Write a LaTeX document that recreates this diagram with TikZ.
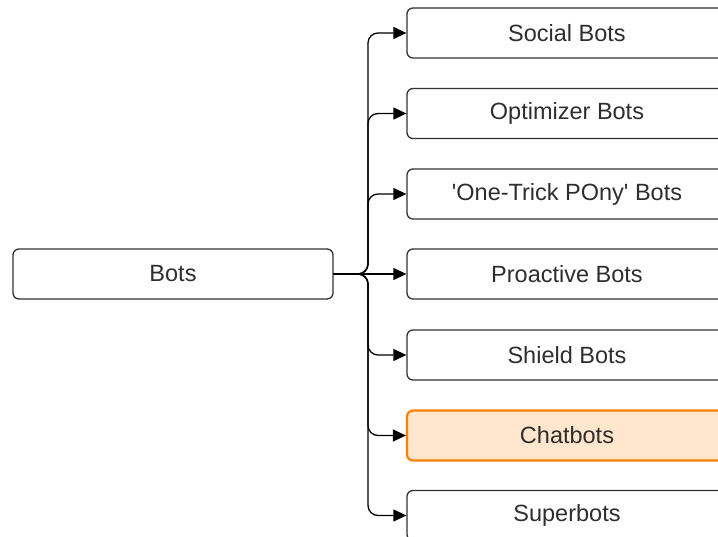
\documentclass[tikz,border=0pt]{standalone}
\usepackage{fontspec}
\setmainfont{Liberation Sans}[Ligatures=TeXOff]
\usetikzlibrary{arrows.meta}
\definecolor{txt}{HTML}{2E2E2E}
\definecolor{edge}{HTML}{333333}
\definecolor{orfill}{HTML}{FFE6CC}
\definecolor{orline}{HTML}{FF8000}
\tikzset{
  box/.style={draw=edge, line width=1.3pt, rounded corners=6pt, fill=white,
    minimum width=320pt, minimum height=50pt, inner sep=0pt,
    font=\fontsize{23.5}{27}\selectfont, text=txt},
  hot/.style={box, draw=orline, fill=orfill, line width=2.2pt},
  conn/.style={draw=black, line width=1.3pt, rounded corners=10pt,
    -{Triangle[length=13pt,width=12pt]}},
}
\begin{document}
\begin{tikzpicture}[x=1pt,y=-1pt]
\useasboundingbox (0,0) rectangle (718,537);
\clip (0,0) rectangle (718,537);
\node[box] (bots) at (173,274) {Bots};
\node[box] (social) at (567,33) {Social Bots};
\node[box] (optim) at (567,113.5) {Optimizer Bots};
\node[box] (onetrick) at (567,194) {'One-Trick POny' Bots};
\node[box] (proact) at (567,274) {Proactive Bots};
\node[box] (shield) at (567,355) {Shield Bots};
\node[hot] (chat) at (567,435.5) {Chatbots};
\node[box] (super) at (567,515.5) {Superbots};
\coordinate (j) at (368,274);
\foreach \t in {social,optim,onetrick,shield,chat,super}
  \draw[conn] (bots.east) -- (j) |- (\t.west);
\draw[conn] (bots.east) -- (proact.west);
\end{tikzpicture}
\end{document}
